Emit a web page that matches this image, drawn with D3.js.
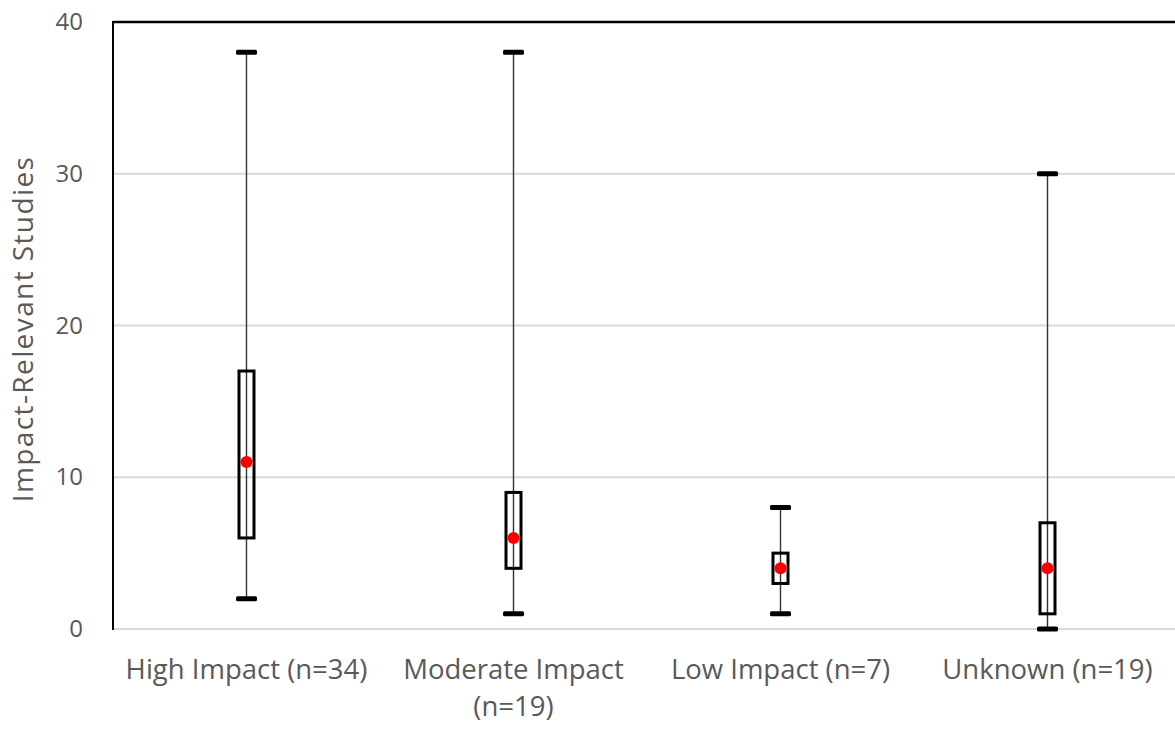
<!DOCTYPE html>
<html><head><meta charset="utf-8">
<script src="https://cdn.jsdelivr.net/npm/d3@7"></script>
<style>body{margin:0;background:#fff}svg{display:block}</style>
</head><body>
<svg id="c" width="1175" height="729"></svg>
<script>
const categories = [["High Impact (n=34)"], ["Moderate Impact", "(n=19)"], ["Low Impact (n=7)"], ["Unknown (n=19)"]];
const minValues = [2, 1, 1, 0];
const q1Values = [6, 4, 3, 1];
const q3Values = [17, 9, 5, 7];
const maxValues = [38, 38, 8, 30];
const centerValues = [11, 6, 4, 4];
const yTicks = [0, 10, 20, 30, 40];
const yTitle = "Impact-Relevant Studies";

(function() {
const svg = d3.select("#c");
const font = "'Open Sans', 'Noto Sans', sans-serif";
const mLeft = 113, mRight = 1181, mTop = 22, mBottom = 629;
const x = d3.scaleBand().domain(d3.range(categories.length)).range([mLeft, mRight]);
const y = d3.scaleLinear().domain([0, 40]).range([mBottom, mTop]);

// gridlines
svg.append("g").selectAll("line").data(yTicks.filter(t => t < 40)).join("line")
  .attr("x1", mLeft).attr("x2", 1175).attr("y1", d => y(d)).attr("y2", d => y(d))
  .attr("stroke", "#d9d9d9").attr("stroke-width", 2);

// borders
svg.append("line").attr("x1", mLeft).attr("x2", 1175).attr("y1", y(40)).attr("y2", y(40))
  .attr("stroke", "#000").attr("stroke-width", 2.5);
svg.append("line").attr("x1", mLeft).attr("x2", mLeft).attr("y1", y(40) - 1).attr("y2", y(0) + 1)
  .attr("stroke", "#000").attr("stroke-width", 2);

// y tick labels
const yAxis = d3.axisLeft(y).tickValues(yTicks).tickSize(0).tickPadding(30);
const ga = svg.append("g").attr("transform", `translate(${mLeft},0)`).call(yAxis);
ga.select(".domain").remove();
ga.selectAll("text").attr("font-family", font).attr("font-size", 24).attr("fill", "#595959");

// y title
svg.append("text").attr("transform", `translate(33,329) rotate(-90)`)
  .attr("text-anchor", "middle").attr("font-family", font).attr("font-size", 28)
  .attr("letter-spacing", 1.4)
  .attr("fill", "#595959").text(yTitle);

// category labels
const cl = svg.append("g").selectAll("text").data(categories).join("text")
  .attr("x", (d, i) => x(i) + x.bandwidth() / 2).attr("y", 679)
  .attr("text-anchor", "middle").attr("font-family", font).attr("font-size", 27.5)
  .attr("fill", "#595959");
cl.selectAll("tspan").data(d => d).join("tspan")
  .attr("x", function() { return this.parentNode.getAttribute("x"); })
  .attr("dy", (d, i) => i === 0 ? 0 : 37).text(d => d);

// boxes
const g = svg.append("g");
categories.forEach((c, i) => {
  const cx = x(i) + x.bandwidth() / 2;
  g.append("line").attr("x1", cx).attr("x2", cx).attr("y1", y(maxValues[i])).attr("y2", y(minValues[i]))
    .attr("stroke", "#333").attr("stroke-width", 1.4);
  g.append("rect").attr("x", cx - 7.5).attr("width", 15)
    .attr("y", y(q3Values[i])).attr("height", y(q1Values[i]) - y(q3Values[i]))
    .attr("fill", "none").attr("stroke", "#000").attr("stroke-width", 3);
  [maxValues[i], minValues[i]].forEach(v => {
    g.append("rect").attr("x", cx - 10.5).attr("width", 21).attr("y", y(v) - 2.5).attr("height", 5)
      .attr("rx", 1.5).attr("fill", "#000");
  });
  g.append("circle").attr("cx", cx).attr("cy", y(centerValues[i])).attr("r", 6).attr("fill", "#ff0000");
});
})();
</script>
</body></html>
